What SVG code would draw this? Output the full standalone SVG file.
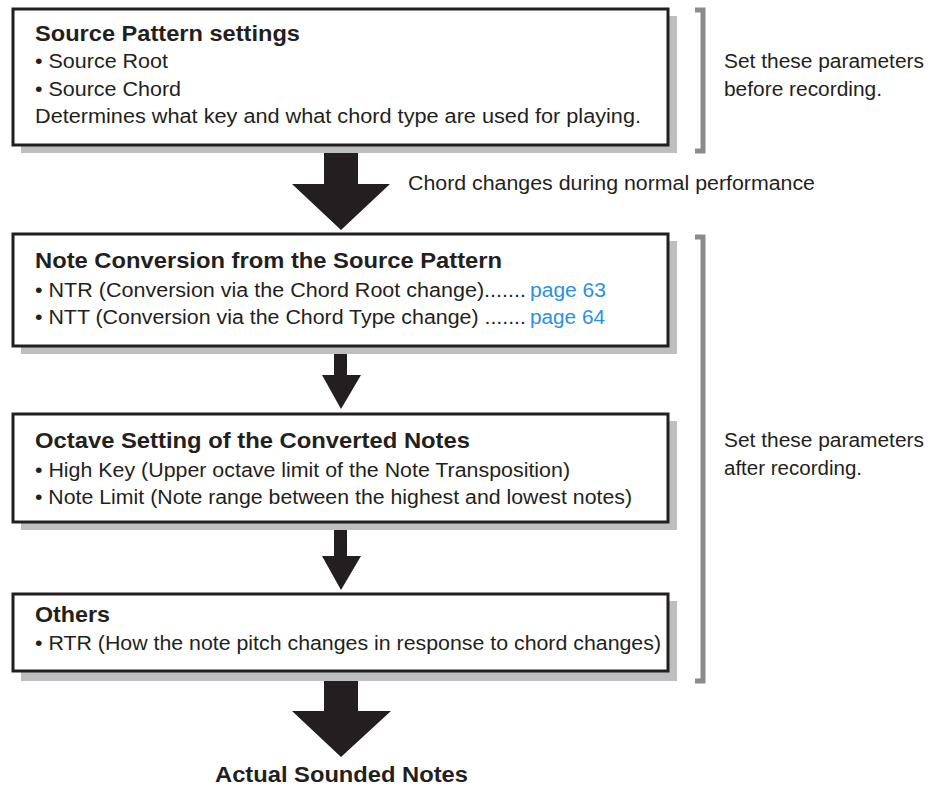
<svg xmlns="http://www.w3.org/2000/svg" width="933" height="787" viewBox="0 0 933 787">
<style>
.shadow{fill:#bcbec0}
.box{fill:#fff;stroke:#231f20;stroke-width:3}
.t{font-family:"Liberation Sans",Arial,sans-serif;font-size:20px;fill:#231f20}
.b{font-family:"Liberation Sans",Arial,sans-serif;font-size:22px;font-weight:bold;fill:#231f20}
.link{fill:#2a91e0}
.arrow{fill:#231f20}
.bracket{fill:none;stroke:#8a8b8d;stroke-width:5}
</style>
<rect width="933" height="787" fill="#fff"/>
<g id="connectors">
<polygon class="arrow" points="324,144 358,144 358,184 390,184 341,230 292,184 324,184"/>
<polygon class="arrow" points="334,345 347,345 347,375 361,375 341,409 322,375 334,375"/>
<polygon class="arrow" points="334,521 347,521 347,556 361,556 341,590 322,556 334,556"/>
<polygon class="arrow" points="324,670 358,670 358,711 391,711 341,757 292,711 324,711"/>
</g>
<g id="node-source">
<rect class="shadow" x="21" y="16" width="656" height="137"/>
<rect class="box" x="13" y="9" width="655" height="136"/>
<text class="b" x="35" y="41" textLength="265" lengthAdjust="spacingAndGlyphs">Source Pattern settings</text>
<text class="t" x="35" y="68" textLength="133" lengthAdjust="spacingAndGlyphs">• Source Root</text>
<text class="t" x="35" y="96" textLength="146" lengthAdjust="spacingAndGlyphs">• Source Chord</text>
<text class="t" x="35" y="123" textLength="606" lengthAdjust="spacingAndGlyphs">Determines what key and what chord type are used for playing.</text>
</g>
<g id="note-before">
<path class="bracket" d="M695,10 H703 V151 H695"/>
<text class="t" x="724" y="68" textLength="200" lengthAdjust="spacingAndGlyphs">Set these parameters</text>
<text class="t" x="724" y="96" textLength="158" lengthAdjust="spacingAndGlyphs">before recording.</text>
</g>
<g id="label-chord">
<text class="t" x="408" y="190" textLength="407" lengthAdjust="spacingAndGlyphs">Chord changes during normal performance</text>
</g>
<g id="node-conversion">
<rect class="shadow" x="21" y="241" width="656" height="113"/>
<rect class="box" x="13" y="234" width="655" height="112"/>
<text class="b" x="35" y="268" textLength="467" lengthAdjust="spacingAndGlyphs">Note Conversion from the Source Pattern</text>
<text class="t" x="35" y="297" textLength="491" lengthAdjust="spacingAndGlyphs">• NTR (Conversion via the Chord Root change).......</text>
<text class="t link" x="530" y="297" textLength="76" lengthAdjust="spacingAndGlyphs">page 63</text>
<text class="t" x="35" y="324" textLength="491" lengthAdjust="spacingAndGlyphs">• NTT (Conversion via the Chord Type change) .......</text>
<text class="t link" x="530" y="324" textLength="75" lengthAdjust="spacingAndGlyphs">page 64</text>
</g>
<g id="node-octave">
<rect class="shadow" x="21" y="421" width="656" height="109"/>
<rect class="box" x="13" y="414" width="655" height="108"/>
<text class="b" x="35" y="448" textLength="435" lengthAdjust="spacingAndGlyphs">Octave Setting of the Converted Notes</text>
<text class="t" x="35" y="477" textLength="535" lengthAdjust="spacingAndGlyphs">• High Key (Upper octave limit of the Note Transposition)</text>
<text class="t" x="35" y="504" textLength="597" lengthAdjust="spacingAndGlyphs">• Note Limit (Note range between the highest and lowest notes)</text>
</g>
<g id="node-others">
<rect class="shadow" x="21" y="601" width="656" height="80"/>
<rect class="box" x="13" y="594" width="655" height="77"/>
<text class="b" x="35" y="622" textLength="75" lengthAdjust="spacingAndGlyphs">Others</text>
<text class="t" x="35" y="650" textLength="626" lengthAdjust="spacingAndGlyphs">• RTR (How the note pitch changes in response to chord changes)</text>
</g>
<g id="note-after">
<path class="bracket" d="M695,237 H703 V681 H695"/>
<text class="t" x="724" y="447" textLength="200" lengthAdjust="spacingAndGlyphs">Set these parameters</text>
<text class="t" x="724" y="475" textLength="138" lengthAdjust="spacingAndGlyphs">after recording.</text>
</g>
<g id="node-result">
<text class="b" x="215" y="782" textLength="253" lengthAdjust="spacingAndGlyphs">Actual Sounded Notes</text>
</g>
</svg>
